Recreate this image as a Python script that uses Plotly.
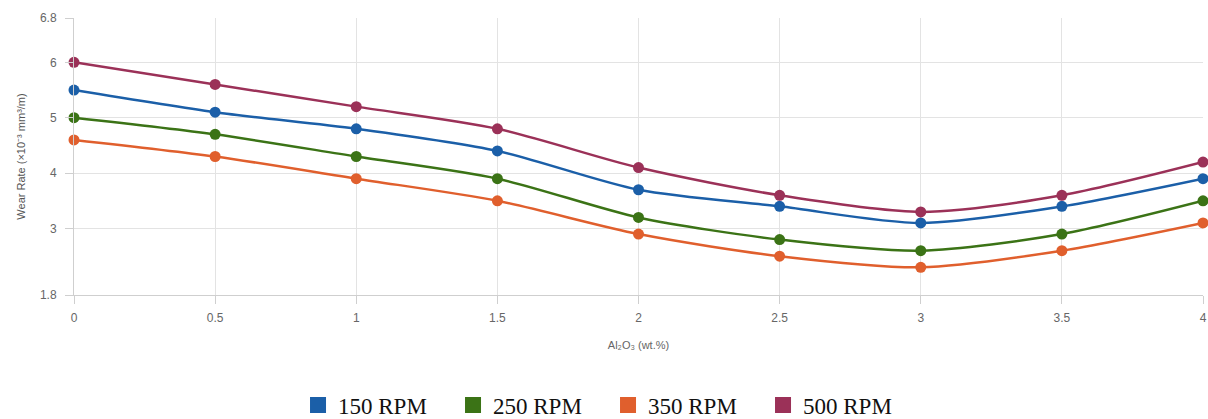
import plotly.graph_objects as go

x_vals = [0, 0.5, 1, 1.5, 2, 2.5, 3, 3.5, 4]
rpm_150 = [5.5, 5.1, 4.8, 4.4, 3.7, 3.4, 3.1, 3.4, 3.9]
rpm_250 = [5.0, 4.7, 4.3, 3.9, 3.2, 2.8, 2.6, 2.9, 3.5]
rpm_350 = [4.6, 4.3, 3.9, 3.5, 2.9, 2.5, 2.3, 2.6, 3.1]
rpm_500 = [6.0, 5.6, 5.2, 4.8, 4.1, 3.6, 3.3, 3.6, 4.2]
series_names = ["150 RPM", "250 RPM", "350 RPM", "500 RPM"]
colors = ["#1b5fa8", "#3b7316", "#e05f2d", "#9b3158"]
y_ticks = [1.8, 3, 4, 5, 6, 6.8]
x_ticks = [0, 0.5, 1, 1.5, 2, 2.5, 3, 3.5, 4]
x_tick_labels = ["0", "0.5", "1", "1.5", "2", "2.5", "3", "3.5", "4"]

fig = go.Figure()
for name, ys, c in zip(series_names, [rpm_150, rpm_250, rpm_350, rpm_500], colors):
    fig.add_trace(go.Scatter(
        x=x_vals, y=ys, mode="lines+markers", name=name,
        line=dict(color=c, width=2.5, shape="spline", smoothing=0.8),
        marker=dict(color=c, size=11),
        showlegend=False, cliponaxis=False,
    ))
# legend entries (square swatches)
for name, c in zip(series_names, colors):
    fig.add_trace(go.Scatter(
        x=[None], y=[None], mode="markers", name=name,
        marker=dict(color=c, size=19, symbol="square"),
        showlegend=True,
    ))

fig.update_layout(
    width=1208, height=419,
    margin=dict(l=74, r=5, t=18, b=124, autoexpand=False),
    paper_bgcolor="white", plot_bgcolor="white",
    showlegend=True,
    legend=dict(orientation="h", x=0.473, xanchor="center", y=-0.32, yanchor="top",
                font=dict(family="Liberation Serif, Times New Roman, serif", size=23, color="#111"),
                itemsizing="trace", traceorder="normal", itemwidth=30,
                entrywidth=110, entrywidthmode="pixels",
                tracegroupgap=0),
    font=dict(family="Liberation Sans, Arial, sans-serif"),
)
fig.update_xaxes(
    range=[0, 4], tickvals=x_ticks, ticktext=x_tick_labels,
    showgrid=True, gridcolor="#e3e3e3", gridwidth=1,
    zeroline=False, showline=True, linecolor="#cfcfcf",
    ticks="outside", ticklen=8, tickcolor="#cfcfcf",
    ticklabelstandoff=4,
    tickfont=dict(size=12, color="#666"),
    automargin=False,
    title=dict(text="Al₂O₃ (wt.%)", font=dict(size=11, color="#666"), standoff=16),
)
fig.update_yaxes(
    range=[1.8, 6.8], tickvals=y_ticks, ticktext=[str(t) for t in y_ticks],
    showgrid=True, gridcolor="#e3e3e3", gridwidth=1,
    zeroline=False, showline=True, linecolor="#cfcfcf",
    ticks="outside", ticklen=8, tickcolor="#cfcfcf",
    ticklabelstandoff=6,
    tickfont=dict(size=12, color="#666"),
    automargin=False,
    title=dict(text="Wear Rate (×10⁻³ mm³/m)", font=dict(size=11, color="#555"), standoff=12),
)
fig.write_html(
    "out.html",
    config={"displayModeBar": False},
    post_script="document.body.style.margin='0';document.body.style.overflow='hidden';document.documentElement.style.overflow='hidden';",
)
